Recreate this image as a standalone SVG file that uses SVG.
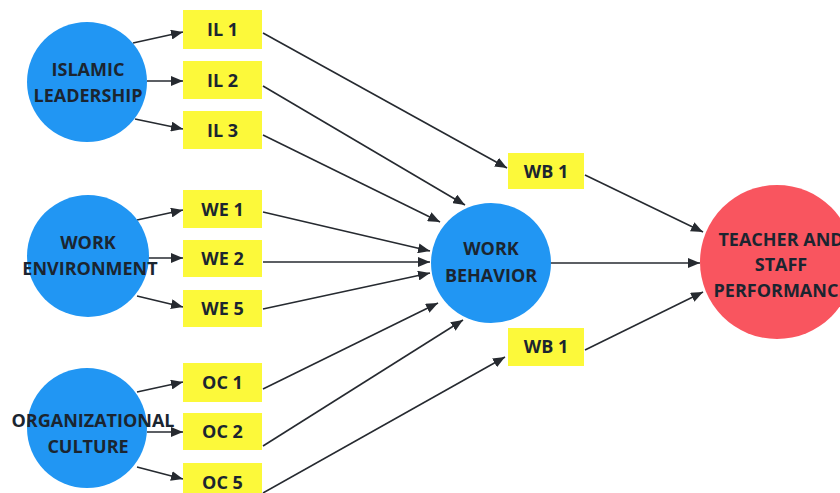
<svg xmlns="http://www.w3.org/2000/svg" width="840" height="493" viewBox="0 0 840 493">
<defs>
<marker id="ah" viewBox="0 0 12 10" refX="12" refY="5" markerWidth="12" markerHeight="10" markerUnits="userSpaceOnUse" orient="auto">
<path d="M0,0 L12,5 L0,10 Z" fill="#262a30"/>
</marker>
<style>
.c{fill:#2196f3}
.r{fill:#f9555f}
.b{fill:#fcf93a}
text{font-family:"Open Sans","Liberation Sans",sans-serif;font-weight:700;font-size:18px;fill:#1b2530;text-anchor:middle}
.e{stroke:#262a30;stroke-width:1.6;fill:none;marker-end:url(#ah)}
</style>
</defs>
<rect width="840" height="493" fill="#ffffff"/>
<g id="connectors">
<line class="e" x1="133" y1="43" x2="183" y2="32"/>
<line class="e" x1="147" y1="81" x2="183" y2="81"/>
<line class="e" x1="135" y1="119" x2="183" y2="129"/>
<line class="e" x1="137" y1="220" x2="183" y2="210"/>
<line class="e" x1="148" y1="258" x2="183" y2="258"/>
<line class="e" x1="137" y1="296" x2="183" y2="307"/>
<line class="e" x1="137" y1="392" x2="183" y2="382"/>
<line class="e" x1="147" y1="432" x2="183" y2="432"/>
<line class="e" x1="137" y1="467" x2="183" y2="479"/>
<line class="e" x1="263" y1="33" x2="507" y2="168"/>
<line class="e" x1="263" y1="86" x2="465" y2="205"/>
<line class="e" x1="263" y1="135" x2="440" y2="222"/>
<line class="e" x1="263" y1="212" x2="430" y2="251"/>
<line class="e" x1="263" y1="262" x2="430" y2="262"/>
<line class="e" x1="263" y1="309" x2="430" y2="273"/>
<line class="e" x1="263" y1="389" x2="438" y2="303"/>
<line class="e" x1="263" y1="446" x2="463" y2="320"/>
<line class="e" x1="263" y1="493" x2="505" y2="357"/>
<line class="e" x1="585" y1="175" x2="703" y2="232"/>
<line class="e" x1="550" y1="263" x2="700" y2="263"/>
<line class="e" x1="585" y1="350" x2="703" y2="292"/>
</g>
<g id="islamic-leadership">
<circle class="c" cx="87" cy="82" r="60"/>
<text x="88" y="76">ISLAMIC</text>
<text x="88" y="102">LEADERSHIP</text>
</g>
<g id="work-environment">
<circle class="c" cx="88" cy="256" r="61"/>
<text x="88" y="249">WORK</text>
<text x="90" y="275">ENVIRONMENT</text>
</g>
<g id="organizational-culture">
<circle class="c" cx="87" cy="428" r="60"/>
<text x="93" y="427">ORGANIZATIONAL</text>
<text x="88" y="453">CULTURE</text>
</g>
<g id="il1"><rect class="b" x="183" y="10" width="79" height="39"/><text x="222.5" y="36">IL 1</text></g>
<g id="il2"><rect class="b" x="183" y="61" width="79" height="38"/><text x="222.5" y="87">IL 2</text></g>
<g id="il3"><rect class="b" x="183" y="111" width="79" height="38"/><text x="222.5" y="137">IL 3</text></g>
<g id="we1"><rect class="b" x="183" y="190" width="79" height="38"/><text x="222.5" y="216">WE 1</text></g>
<g id="we2"><rect class="b" x="183" y="240" width="79" height="37"/><text x="222.5" y="265">WE 2</text></g>
<g id="we5"><rect class="b" x="183" y="290" width="79" height="37"/><text x="222.5" y="315">WE 5</text></g>
<g id="oc1"><rect class="b" x="183" y="363" width="79" height="39"/><text x="222.5" y="389">OC 1</text></g>
<g id="oc2"><rect class="b" x="183" y="413" width="79" height="37"/><text x="222.5" y="438">OC 2</text></g>
<g id="oc5"><rect class="b" x="183" y="463" width="79" height="38"/><text x="222.5" y="489">OC 5</text></g>
<g id="work-behavior">
<circle class="c" cx="491" cy="263" r="60"/>
<text x="491" y="255">WORK</text>
<text x="491" y="282">BEHAVIOR</text>
</g>
<g id="wb1-top"><rect class="b" x="508" y="153" width="76" height="36"/><text x="546" y="178">WB 1</text></g>
<g id="wb1-bottom"><rect class="b" x="508" y="328" width="76" height="38"/><text x="546" y="353">WB 1</text></g>
<g id="teacher-staff-performance">
<circle class="r" cx="777" cy="262" r="77"/>
<text x="781" y="246">TEACHER AND</text>
<text x="781" y="271">STAFF</text>
<text x="781" y="297">PERFORMANCE</text>
</g>
</svg>
